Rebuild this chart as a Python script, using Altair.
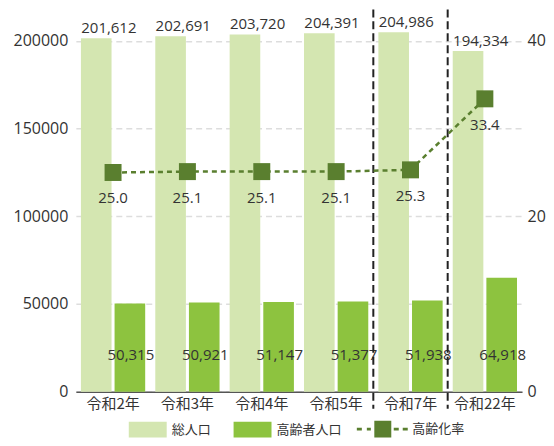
import altair as alt
import pandas as pd

categories = ["令和2年", "令和3年", "令和4年", "令和5年", "令和7年", "令和22年"]
total_pop = [201612, 202691, 203720, 204391, 204986, 194334]
elderly_pop = [50315, 50921, 51147, 51377, 51938, 64918]
aging_rate = [25.0, 25.1, 25.1, 25.1, 25.3, 33.4]
bar_series = ["総人口", "高齢者人口"]
rate_series = "高齢化率"
divider_cats = ["令和7年", "令和22年"]
left_ticks = [0, 50000, 100000, 150000, 200000]
right_ticks = [0, 20, 40]

LIGHT = "#d4e6b1"
MID = "#8dc33f"
DARK = "#5a7f2f"
TXT = "#333333"
NUM_FONT = "Open Sans"
JP_FONT = "Noto Sans CJK JP"

bars_df = pd.DataFrame({
    "cat": categories * 2,
    "series": [bar_series[0]] * len(categories) + [bar_series[1]] * len(categories),
    "value": total_pop + elderly_pop,
})
bars_df["label"] = bars_df["value"].map(lambda v: f"{v:,}")

rate_df = pd.DataFrame({"cat": categories, "rate": aging_rate, "rseries": rate_series})
rate_df["label"] = rate_df["rate"].map(lambda v: f"{v:.1f}")

div_df = pd.DataFrame({"cat": divider_cats})

W, H = 447, 383

x_scale = alt.Scale(domain=categories, paddingInner=0, paddingOuter=0)
x_axis = alt.Axis(title=None, labelFont=JP_FONT, labelFontSize=15, labelColor=TXT,
                  ticks=False, labelPadding=5, domainColor="#555555", domainWidth=1.5,
                  labelAngle=0)
x_enc = alt.X("cat:N", sort=categories, scale=x_scale, axis=x_axis)

y_left = alt.Y("value:Q", scale=alt.Scale(domain=[0, 218000], nice=False),
               axis=alt.Axis(title=None, values=left_ticks, format="d", labelFont=NUM_FONT,
                             labelFontSize=16, labelColor=TXT, ticks=False, domain=False,
                             labelPadding=8, grid=True, gridColor="#dddddd",
                             gridDash=[6, 4], gridWidth=1.5))

xoff = alt.XOffset("series:N", sort=bar_series,
                   scale=alt.Scale(domain=bar_series, paddingInner=0.09, paddingOuter=0.15))

color_enc = alt.Color(
    "series:N",
    scale=alt.Scale(domain=bar_series, range=[LIGHT, MID]),
    legend=alt.Legend(title=None, orient="none", legendX=64, legendY=413,
                      direction="horizontal", symbolType="M-2.375,-1H2.375V1H-2.375Z",
                      symbolSize=256, symbolStrokeWidth=0, labelFont=JP_FONT,
                      labelFontSize=13, labelColor=TXT, labelOffset=16, columnPadding=22),
)

bars = alt.Chart(bars_df).mark_bar().encode(x=x_enc, xOffset=xoff, y=y_left, color=color_enc)

top_labels = alt.Chart(bars_df).transform_filter(
    alt.datum.series == bar_series[0]
).mark_text(align="left", baseline="bottom", dx=-15, dy=-2, font=NUM_FONT,
            fontSize=15, color=TXT).encode(x=x_enc, xOffset=xoff, y=y_left, text="label:N")

low_labels = alt.Chart(bars_df).transform_filter(
    alt.datum.series == bar_series[1]
).mark_text(align="center", baseline="middle", dx=1, dy=-37, font=NUM_FONT,
            fontSize=15, color=TXT).encode(x=x_enc, xOffset=xoff, y=alt.value(H), text="label:N")

dividers = alt.Chart(div_df).mark_rule(color="#222222", strokeWidth=2, strokeDash=[8, 4]).encode(
    x=alt.X("cat:N", sort=categories, scale=x_scale, axis=x_axis, bandPosition=0),
    y=alt.value(0), y2=alt.value(H + 17))

left = alt.layer(bars, top_labels, low_labels, dividers)

y_right = alt.Y("rate:Q", scale=alt.Scale(domain=[0, 43.6], nice=False),
                axis=alt.Axis(orient="right", values=right_ticks, title=None, labelFont=NUM_FONT,
                              labelFontSize=16, labelColor=TXT, ticks=False, domain=False,
                              grid=False, labelPadding=5))

line = alt.Chart(rate_df).mark_line(color=DARK, strokeDash=[5, 4], strokeWidth=2.5).encode(
    x=x_enc, y=y_right)
points = alt.Chart(rate_df).mark_point(shape="square", filled=True, size=289, color=DARK,
                                       opacity=1).encode(x=x_enc, y=y_right)
rate_labels = alt.Chart(rate_df).mark_text(dy=26, font=NUM_FONT, fontSize=15, color=TXT).encode(
    x=x_enc, y=y_right, text="label:N")

LINE_PATH = ("M-3.06,-0.15H-2.47V0.15H-3.06Z M-1.88,-0.15H-1.41V0.15H-1.88Z "
             "M-1,-1H1V1H-1Z M1.29,-0.15H1.88V0.15H1.29Z M2.35,-0.15H2.94V0.15H2.35Z")
legend_carrier = alt.Chart(rate_df).transform_filter("false").mark_point(
    filled=True, color=DARK, opacity=1).encode(
    x=x_enc, y=y_right,
    shape=alt.Shape("rseries:N", scale=alt.Scale(domain=[rate_series], range=[LINE_PATH]),
                    legend=alt.Legend(title=None, orient="none", legendX=299, legendY=412,
                                      direction="horizontal", symbolSize=289,
                                      symbolFillColor=DARK, symbolStrokeWidth=0,
                                      labelFont=JP_FONT, labelFontSize=13, labelColor=TXT,
                                      labelOffset=21)))

right = alt.layer(line, points, rate_labels, legend_carrier)

chart = alt.layer(left, right).resolve_scale(y="independent").properties(
    width=W, height=H, padding={"left": 5, "top": 0, "right": 0, "bottom": 0},
    background="white",
).configure_view(stroke=None)

chart.save("out.html", embed_options={"renderer": "svg", "actions": False})
